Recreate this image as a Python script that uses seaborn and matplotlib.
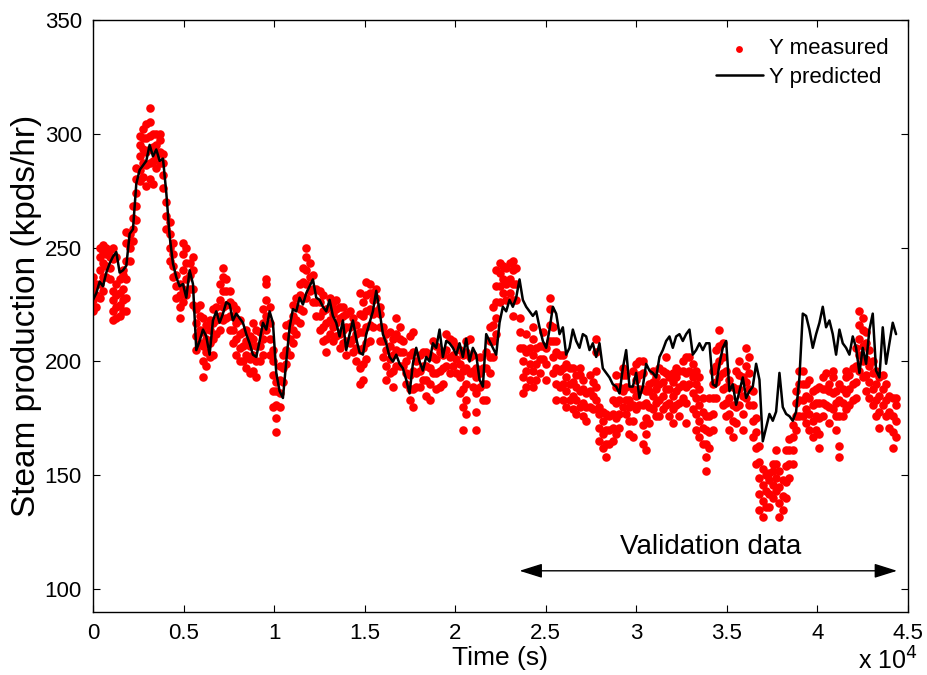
#!/usr/bin/env python3
# Steam production: measured vs predicted, with the validation span marked

import numpy as np
import pandas as pd
import matplotlib
matplotlib.use('Agg')
import matplotlib.pyplot as plt
import seaborn as sns


# Data ==========================================================================

SAMPLE_STEP = 184.0  # seconds between read-off samples

# predicted steam production (kpds/hr), one value per sample
pred_a = [227, 230, 235, 233, 239, 243, 246, 248, 239, 240,
          242, 256, 258, 278, 284, 286, 288, 295, 290, 293,
          288, 289, 274, 255, 243, 237, 233, 234, 228, 240,
          234, 205, 209, 214, 211, 203, 218, 222, 217, 221,
          226, 225, 218, 221, 219, 217, 212, 208, 203, 202,
          209, 217, 214, 222, 217, 195, 187, 184, 200, 215,
          223, 222, 228, 225, 230, 233, 236, 228, 227, 224,
          222, 227, 220, 217, 211, 218, 205, 212, 218, 210,
          204]
pred_b = [203, 212, 217, 222, 231, 222, 212, 208, 202, 200,
          203, 199, 197, 192, 186, 199, 206, 200, 196, 202,
          200, 208, 206, 214, 202, 209, 208, 206, 203, 208,
          202, 210, 200, 206, 203, 192, 189, 212, 209, 206,
          203, 217, 224, 222, 227, 224, 228, 236, 227, 224,
          222, 220, 222, 215, 209, 206, 214, 224, 221, 212,
          215, 203, 206, 214, 209, 206, 212, 211, 205, 208,
          202, 208, 197, 195, 193, 190, 189, 186, 197, 205,
          189]
pred_c = [189, 195, 184, 189, 199, 196, 195, 193, 202, 205,
          209, 211, 206, 211, 212, 209, 212, 214, 203, 205,
          208, 205, 208, 208, 190, 189, 199, 206, 209, 187,
          190, 181, 187, 193, 184, 187, 189, 199, 192, 165,
          171, 177, 174, 178, 195, 180, 177, 176, 174, 178,
          193, 221, 220, 214, 206, 212, 217, 224, 215, 218,
          212, 203, 214, 208, 206, 203, 211, 206, 195, 206,
          199, 214, 221, 196, 193, 215, 199, 208, 217, 212]

# measured steam production (kpds/hr), several readings per sample
meas_a = [
    [222, 227, 232, 237], [224, 229, 234], [228, 234, 240, 246, 250],
    [231, 237, 243, 248, 251], [237, 242, 247, 250], [236, 241, 246, 249],
    [218, 222, 227, 231, 245, 250], [219, 224, 229, 234, 246],
    [220, 225, 230, 236], [222, 227, 232, 238, 240],
    [222, 228, 236, 244, 252, 257], [244, 250, 256], [253, 258, 263, 268],
    [262, 268, 274, 280, 285], [279, 284, 290, 295, 299],
    [281, 287, 293, 298, 302], [277, 286, 292, 298, 304],
    [280, 287, 293, 299, 305, 311], [278, 288, 294, 300],
    [285, 290, 295, 300], [287, 292, 297, 300], [276, 282, 287, 291],
    [258, 264, 270], [244, 250, 256, 261], [237, 242, 247, 252],
    [228, 233, 238], [219, 224, 229, 234], [226, 232, 240, 247, 252],
    [229, 236, 243, 250], [232, 238, 243], [225, 232, 240, 246],
    [205, 211, 217, 223], [208, 214, 220, 225], [193, 200, 207, 213, 219],
    [198, 204, 210, 216], [202, 208, 214, 218], [203, 210, 217, 223],
    [212, 218, 224], [214, 220, 227, 234], [218, 224, 231, 237, 241],
    [219, 225, 231, 236], [214, 220, 226, 231], [208, 214, 220, 225],
    [203, 210, 217, 223], [200, 206, 212, 218], [200, 207, 213],
    [197, 203, 209, 214], [195, 201, 207, 211], [196, 203, 210, 217],
    [193, 200, 207, 214], [200, 207, 213], [203, 210, 217, 223],
    [214, 220, 227, 234, 236], [203, 210, 217, 224],
    [180, 187, 194, 200, 205], [169, 175, 181, 187, 191],
    [180, 186, 192, 198], [191, 197, 203], [199, 205, 211, 216],
    [203, 210, 217], [208, 214, 220, 225], [212, 218, 224, 228],
    [217, 223, 229, 234], [222, 228, 235, 241], [228, 234, 240, 246, 250],
    [231, 237, 243], [226, 232, 238], [220, 226, 232], [214, 220, 226, 231],
    [209, 215, 222, 229], [204, 210, 217, 223], [212, 218, 224, 228],
    [209, 215, 221, 226], [211, 217, 223, 227], [206, 212, 219, 224],
    [208, 214, 220, 224], [203, 209, 215, 221], [208, 215, 222],
    [204, 210, 216, 219], [200, 206, 212, 216], [190, 197, 205, 213, 221, 230],
]
meas_b = [
    [192, 199, 206, 213, 220, 226], [201, 208, 215, 222, 229, 235],
    [209, 216, 223, 230, 234], [215, 221, 227, 230], [222, 228, 232],
    [209, 215, 221, 224], [202, 209, 215], [192, 198, 205, 212],
    [195, 201, 207, 213], [189, 196, 203, 210], [198, 205, 212, 219],
    [198, 204, 210, 215], [198, 204, 209], [190, 195, 200],
    [183, 188, 194, 203, 211], [180, 188, 196, 204, 213], [189, 195, 200],
    [189, 196, 203], [192, 198, 204], [185, 192, 198, 204],
    [183, 190, 197, 203], [195, 202, 209], [188, 195, 201, 207],
    [189, 196, 204], [190, 197, 203], [198, 205, 212], [195, 202, 210],
    [198, 203, 209], [195, 201, 207], [186, 193, 199, 205],
    [170, 180, 188, 196, 203], [177, 183, 190, 197, 204, 209],
    [195, 202, 210], [189, 196, 203], [170, 178, 186, 193, 197],
    [189, 195, 202], [183, 190, 197], [183, 190, 197, 204],
    [195, 202, 209, 215], [202, 209, 216, 224], [212, 219, 226, 233, 240],
    [226, 233, 239, 243], [230, 236, 242], [227, 234, 241], [230, 236, 243],
    [220, 227, 234, 240, 244], [227, 234, 241], [206, 213, 219],
    [186, 193, 200, 206], [189, 196, 204, 212], [192, 199, 206],
    [189, 196, 203, 210, 215], [192, 199, 206], [195, 201, 207],
    [201, 207, 213], [192, 199, 206], [209, 216, 223, 228],
    [195, 202, 209, 215], [183, 190, 197, 204, 209], [189, 196, 203],
    [183, 190, 197, 203], [180, 187, 193, 199], [183, 190, 197],
    [179, 185, 191, 197], [177, 183, 189, 194], [180, 187, 194, 197],
    [176, 182, 188, 192], [174, 180, 186], [180, 187, 194], [179, 185, 191],
    [183, 189, 196, 204, 210], [165, 171, 177, 180], [162, 168, 174, 178],
    [158, 164, 170, 177], [164, 170, 176], [165, 171, 177, 183],
    [168, 175, 182, 189, 194], [171, 177, 183, 189], [180, 187, 194, 197],
    [177, 183, 189, 194], [168, 174, 180, 183],
]
meas_c = [
    [167, 174, 181, 188, 196], [179, 185, 192, 199], [181, 188, 194, 200],
    [164, 172, 181, 188, 195, 200], [161, 168, 175, 182, 187],
    [173, 180, 187, 190], [179, 185, 191, 196], [176, 182, 188, 193],
    [176, 183, 190, 197], [179, 185, 191, 196], [181, 188, 195, 202],
    [176, 182, 188, 193], [173, 179, 185, 191, 195], [181, 187, 193, 197],
    [176, 182, 189, 196], [184, 190, 196, 200], [173, 182, 189, 195, 202],
    [190, 196, 202], [179, 186, 193, 199], [170, 177, 184, 190, 196],
    [167, 174, 181, 188, 193], [164, 171, 178, 184],
    [152, 158, 164, 170, 176], [162, 169, 176, 184],
    [170, 177, 184, 190, 196], [184, 191, 198, 205], [193, 200, 207, 214],
    [181, 188, 195, 202, 208], [176, 182, 189, 196], [170, 177, 184, 192],
    [167, 174, 181, 189], [173, 180, 188, 196], [181, 188, 194, 200],
    [170, 177, 185, 193], [184, 191, 198, 206], [181, 188, 195, 202],
    [167, 174, 181, 187], [155, 162, 169, 175], [135, 142, 149, 156, 163],
    [132, 139, 146, 153], [136, 143, 150], [136, 142, 148, 151],
    [140, 146, 152, 155], [143, 149, 155, 161], [132, 138, 145, 152],
    [135, 141, 148], [140, 147, 154, 161], [149, 155, 161, 166],
    [155, 161, 167, 172], [170, 176, 182, 187], [176, 183, 190, 196],
    [176, 183, 190, 196], [173, 179, 185, 190], [170, 177, 184, 192],
    [167, 174, 181, 187], [170, 176, 182, 188], [162, 168, 175, 182, 189],
    [176, 182, 188, 193], [181, 188, 195], [173, 180, 187, 190],
    [179, 186, 193, 196], [170, 176, 182, 187], [158, 163, 176, 183, 190],
    [176, 182, 188], [179, 186, 193, 196], [181, 188, 194], [183, 190, 197],
    [184, 191, 198, 206], [196, 203, 210, 216, 222],
    [193, 200, 207, 214, 219], [187, 194, 201, 208, 213],
    [184, 191, 198, 205], [181, 188, 195, 200], [176, 183, 190, 196],
    [171, 178, 185, 193], [181, 188, 194], [176, 183, 190], [171, 178, 185],
    [162, 169, 176, 184], [167, 174, 181, 184],
]

x_ticks = [0, 5000, 10000, 15000, 20000, 25000, 30000, 35000, 40000, 45000]
x_tick_labels = ['0', '0.5', '1', '1.5', '2', '2.5', '3', '3.5', '4', '4.5']
y_ticks = [100, 150, 200, 250, 300, 350]
validation_start, validation_end = 23550, 44400


# Plot ==========================================================================

def main():
    sns.set_theme(style='ticks', rc={
        'axes.edgecolor': 'black', 'axes.linewidth': 1.0,
        'xtick.color': 'black', 'ytick.color': 'black', 'text.color': 'black',
        'axes.labelcolor': 'black',
    })
    plt.rcParams['font.family'] = ['Liberation Sans', 'DejaVu Sans']

    pred = pred_a + pred_b + pred_c
    columns = meas_a + meas_b + meas_c
    predicted = pd.DataFrame({'t': np.arange(len(pred)) * SAMPLE_STEP, 'y': pred})
    measured = pd.DataFrame(
        [(i * SAMPLE_STEP, v) for i, col in enumerate(columns) for v in col],
        columns=['t', 'y'],
    )

    fig = plt.figure(figsize=(9.28, 6.75), dpi=100)
    ax = fig.add_axes([0.1002, 0.0929, 0.8782, 0.8782])

    sns.scatterplot(data=measured, x='t', y='y', ax=ax, color='#ff0000',
                    s=38, linewidth=0, label='Y measured', zorder=2)
    sns.lineplot(data=predicted, x='t', y='y', ax=ax, color='black',
                 linewidth=1.8, label='Y predicted', zorder=3)

    ax.set_xlim(0, 45000)
    ax.set_ylim(90, 350)
    ax.set_xticks(x_ticks)
    ax.set_xticklabels(x_tick_labels)
    ax.set_yticks(y_ticks)
    ax.tick_params(direction='in', top=True, right=True, length=5, width=0.8,
                   labelsize=16, pad=8)
    ax.set_xlabel('Time (s)', fontsize=19, labelpad=1)
    ax.set_ylabel('Steam production (kpds/hr)', fontsize=24, labelpad=2)
    fig.text(858 / 928, 1 - 670 / 675, r'x 10$^{4}$', fontsize=18,
             ha='left', va='baseline')

    ax.annotate('', xy=(validation_start, 108.2), xytext=(validation_end, 108.2),
                arrowprops=dict(arrowstyle='<|-|>,head_length=0.7,head_width=0.22',
                                color='black', lw=1, mutation_scale=20,
                                shrinkA=0, shrinkB=0))
    ax.text(34100, 118.5, 'Validation data', fontsize=20, ha='center', va='center')

    ax.legend(loc='upper right', frameon=False, fontsize=16, handlelength=2.1,
              handletextpad=0.3, labelspacing=0.35, borderaxespad=0.45,
              markerscale=0.8)

    fig.savefig('out.png', dpi=100, facecolor='white')


if __name__ == '__main__':
    main()
